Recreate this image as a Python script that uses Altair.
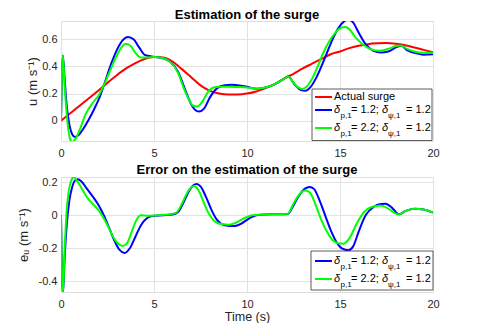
import altair as alt
import pandas as pd

# ---------------- data ----------------
t_actual = [0, 0.5, 1, 1.5, 2, 2.5, 3, 3.5, 4, 4.5, 5, 5.5, 6, 6.5, 7, 7.5, 8, 8.5, 9, 9.5,
            10, 10.5, 11, 11.5, 12, 12.5, 13, 13.5, 14, 14.5, 15, 15.5, 16, 16.5, 17, 17.5,
            18, 18.5, 19, 19.5, 20]
u_actual = [0, 0.055, 0.11, 0.165, 0.22, 0.28, 0.335, 0.385, 0.425, 0.455, 0.47, 0.465,
            0.435, 0.38, 0.32, 0.26, 0.22, 0.2, 0.193, 0.193, 0.2, 0.215, 0.24, 0.27, 0.31,
            0.345, 0.385, 0.42, 0.455, 0.49, 0.51, 0.535, 0.552, 0.564, 0.57, 0.572, 0.567,
            0.556, 0.54, 0.522, 0.505]

t_est_a = [0, 0.1, 0.2, 0.3, 0.45, 0.6, 0.75, 0.95, 1.2, 1.5, 1.8, 2.1, 2.4, 2.7, 3.0, 3.3,
           3.6, 3.9, 4.2, 4.5, 4.8, 5.1, 5.5, 5.9, 6.3, 6.7, 7.0, 7.2, 7.42, 7.7, 8.0, 8.4,
           8.8, 9.2, 9.6, 10.0, 10.5, 11.0, 11.5, 12.0, 12.2, 12.6, 12.9, 13.15, 13.4, 13.7,
           14.0, 14.3, 14.6, 14.9, 15.2, 15.45, 15.7, 16.0, 16.4, 16.8, 17.2, 17.6, 18.0,
           18.3, 18.6, 19.0, 19.5, 20]
u_est_a = [0, 0.48, 0.3, 0.12, -0.03, -0.1, -0.12, -0.105, -0.06, 0.01, 0.09, 0.18, 0.3,
           0.42, 0.52, 0.59, 0.617, 0.6, 0.54, 0.485, 0.475, 0.47, 0.46, 0.43, 0.36, 0.22,
           0.12, 0.08, 0.067, 0.09, 0.17, 0.24, 0.262, 0.265, 0.26, 0.25, 0.235, 0.245,
           0.27, 0.31, 0.325, 0.26, 0.225, 0.22, 0.245, 0.31, 0.4, 0.5, 0.6, 0.68, 0.73,
           0.745, 0.725, 0.65, 0.56, 0.515, 0.503, 0.51, 0.54, 0.553, 0.52, 0.5, 0.487, 0.49]

t_est_b = [0, 0.1, 0.2, 0.34, 0.5, 0.62, 0.8, 1.0, 1.33, 1.7, 2.04, 2.4, 2.7, 3.0, 3.25,
           3.48, 3.75, 4.0, 4.3, 4.6, 5.0, 5.5, 5.9, 6.3, 6.6, 6.9, 7.1, 7.33, 7.6, 7.9, 8.2,
           8.5, 9.0, 9.5, 10.0, 10.5, 11.0, 11.5, 12.0, 12.2, 12.5, 12.75, 12.97, 13.2, 13.5,
           13.8, 14.1, 14.4, 14.7, 15.0, 15.27, 15.5, 15.8, 16.2, 16.6, 17.1, 17.6, 18.0,
           18.26, 18.6, 19.0, 19.5, 20]
u_est_b = [0, 0.48, 0.25, 0.0, -0.14, -0.155, -0.13, -0.07, 0.05, 0.13, 0.19, 0.29, 0.39,
           0.48, 0.54, 0.567, 0.55, 0.5, 0.465, 0.465, 0.47, 0.46, 0.43, 0.35, 0.24, 0.15,
           0.11, 0.104, 0.14, 0.21, 0.245, 0.25, 0.25, 0.248, 0.245, 0.235, 0.245, 0.27,
           0.31, 0.325, 0.28, 0.245, 0.234, 0.25, 0.31, 0.4, 0.5, 0.58, 0.64, 0.68, 0.69,
           0.675, 0.62, 0.565, 0.53, 0.515, 0.53, 0.55, 0.555, 0.53, 0.51, 0.5, 0.5]

t_err_a = [0, 0.1, 0.2, 0.3, 0.45, 0.6, 0.75, 0.9, 1.1, 1.4, 1.7, 2.0, 2.3, 2.6, 2.9, 3.15,
           3.42, 3.7, 4.0, 4.3, 4.6, 4.9, 5.5, 6.0, 6.3, 6.6, 6.9, 7.1, 7.3, 7.5, 7.8, 8.1,
           8.4, 8.8, 9.3, 9.7, 10.1, 10.5, 11.0, 11.5, 12.2, 12.5, 12.8, 13.1, 13.37, 13.6,
           13.9, 14.2, 14.5, 14.8, 15.1, 15.45, 15.7, 16.0, 16.38, 16.8, 17.2, 17.45, 17.8,
           18.17, 18.5, 19.0, 19.5, 20]
e_err_a = [0, -0.48, -0.25, -0.07, 0.09, 0.17, 0.21, 0.218, 0.205, 0.16, 0.115, 0.065, 0.0,
           -0.08, -0.16, -0.21, -0.228, -0.2, -0.13, -0.06, -0.02, -0.005, 0.0, 0.005, 0.02,
           0.08, 0.15, 0.18, 0.19, 0.175, 0.11, 0.03, -0.03, -0.06, -0.065, -0.05, -0.02,
           0.0, 0.005, 0.006, 0.008, 0.06, 0.12, 0.16, 0.172, 0.16, 0.09, 0.0, -0.09, -0.16,
           -0.2, -0.212, -0.19, -0.1, 0.0, 0.05, 0.068, 0.07, 0.045, 0.006, 0.025, 0.04,
           0.035, 0.016]

t_err_b = [0, 0.1, 0.2, 0.3, 0.42, 0.55, 0.68, 0.85, 1.1, 1.42, 1.7, 1.95, 2.2, 2.5, 2.8,
           3.05, 3.3, 3.55, 3.8, 4.05, 4.3, 4.7, 5.2, 5.8, 6.2, 6.5, 6.8, 7.0, 7.15, 7.4, 7.7,
           8.0, 8.3, 8.7, 9.03, 9.4, 9.8, 10.3, 11.0, 12.0, 12.2, 12.5, 12.8, 13.15, 13.4,
           13.7, 14.0, 14.3, 14.6, 14.9, 15.2, 15.5, 15.9, 16.29, 16.7, 17.19, 17.6, 18.0,
           18.17, 18.5, 19.0, 19.5, 20]
e_err_b = [0, -0.48, -0.2, 0.02, 0.15, 0.21, 0.232, 0.21, 0.165, 0.105, 0.07, 0.04, 0.0,
           -0.06, -0.13, -0.17, -0.186, -0.17, -0.1, -0.03, 0.0, -0.003, 0.0, 0.005, 0.016,
           0.07, 0.14, 0.17, 0.178, 0.15, 0.07, 0.0, -0.04, -0.055, -0.057, -0.045, -0.02,
           0.0, 0.005, 0.006, 0.01, 0.07, 0.125, 0.15, 0.135, 0.06, -0.03, -0.1, -0.15,
           -0.17, -0.172, -0.14, -0.05, 0.02, 0.05, 0.06, 0.04, 0.01, 0.004, 0.025, 0.04,
           0.035, 0.016]

x_ticks = [0, 5, 10, 15, 20]
u_ticks = [0, 0.2, 0.4, 0.6]
e_ticks = [-0.4, -0.2, 0, 0.2]
u_domain = [-0.15, 0.735]
e_domain = [-0.465, 0.232]

title_top = "Estimation of the surge"
title_bottom = "Error on the estimation of the surge"
ytitle_top = "u (m s\u207b\u00b9)"
ytitle_bottom = "e\u1d64 (m s\u207b\u00b9)"
xtitle = "Time (s)"
label_actual = "Actual surge"
colors = {"actual": "#ff0000", "a": "#0000ff", "b": "#00ff00"}

# ---------------- style ----------------
FONT = "Liberation Sans"
TXT = "#262626"
W = 372
H1, H2 = 120, 115


def xaxis(title=None):
    kw = dict(values=x_ticks, grid=True, ticks=False, domain=False, labelPadding=6,
              labelExpr="'' + datum.value", labelFontSize=11, labelColor=TXT,
              labelFont=FONT, gridColor="#e2e2e2", labelFlush=False)
    if title:
        return alt.Axis(title=title, titleFont=FONT, titleFontSize=12.5,
                        titleFontWeight="normal", titleColor=TXT, titlePadding=1, **kw)
    return alt.Axis(title=None, **kw)


def yaxis(vals, title, pad):
    return alt.Axis(values=vals, grid=True, ticks=False, domain=False, labelPadding=4,
                    labelExpr="'' + datum.value", labelFontSize=11, labelColor=TXT,
                    labelFont=FONT, gridColor="#e2e2e2", title=title, titleFont=FONT,
                    titleFontSize=13, titleFontWeight="normal", titleColor=TXT,
                    titlePadding=pad)


def line(t, v, color, ydom, xax, yax):
    df = pd.DataFrame({"t": t, "v": v})
    return alt.Chart(df).mark_line(color=color, strokeWidth=2, interpolate="monotone",
                                   clip=True).encode(
        x=alt.X("t:Q", scale=alt.Scale(domain=[0, 20], nice=False), axis=xax),
        y=alt.Y("v:Q", scale=alt.Scale(domain=ydom, nice=False, zero=False), axis=yax),
    )


one = alt.Data(values=[{"k": 1}])


def txt(x, y, s, size=11, italic=False):
    kw = dict(align="left", baseline="middle", font=FONT, fontSize=size, color="#000")
    if italic:
        kw["fontStyle"] = "italic"
    return alt.Chart(one).mark_text(**kw).encode(x=alt.value(x), y=alt.value(y),
                                                 text=alt.value(s))


def seg(x1, x2, y, color):
    return alt.Chart(one).mark_rule(color=color, strokeWidth=2).encode(
        x=alt.value(x1), x2=alt.value(x2), y=alt.value(y))


def box(x1, x2, y1, y2):
    return alt.Chart(one).mark_rect(fill="white", stroke="#333", strokeWidth=0.8).encode(
        x=alt.value(x1), x2=alt.value(x2), y=alt.value(y1), y2=alt.value(y2))


def delta_row(y, p_val, color):
    return [
        seg(254, 271, y, color),
        txt(273, y, "\u03b4", italic=True),
        txt(279.5, y + 5.5, "p,1", size=8),
        txt(290, y, "= " + p_val + ";"),
        txt(321, y, "\u03b4", italic=True),
        txt(327, y + 5.5, "\u03c8,1", size=8),
        txt(345, y, "= 1.2"),
    ]


def ptitle(s):
    return alt.TitleParams(s, font=FONT, fontSize=13, fontWeight="bold", color="#000",
                           anchor="middle", frame="group", offset=-1)


# ---------------- top panel ----------------
xa_top = xaxis()
ya_top = yaxis(u_ticks, ytitle_top, 2)
top_layers = [
    line(t_actual, u_actual, colors["actual"], u_domain, xa_top, ya_top),
    line(t_est_a, u_est_a, colors["a"], u_domain, xa_top, ya_top),
    line(t_est_b, u_est_b, colors["b"], u_domain, xa_top, ya_top),
    box(251, 371, 68, 119.5),
    seg(254, 271, 76, colors["actual"]),
    txt(273, 76, label_actual),
] + delta_row(89, "1.2", colors["a"]) + delta_row(107, "2.2", colors["b"])

top = alt.layer(*top_layers).properties(width=W, height=H1, title=ptitle(title_top))

# ---------------- bottom panel ----------------
xa_bot = xaxis(xtitle)
ya_bot = yaxis(e_ticks, ytitle_bottom, 8)
bot_layers = [
    line(t_err_a, e_err_a, colors["a"], e_domain, xa_bot, ya_bot),
    line(t_err_b, e_err_b, colors["b"], e_domain, xa_bot, ya_bot),
    box(250, 372, 74, 113),
] + delta_row(84, "1.2", colors["a"]) + delta_row(102, "2.2", colors["b"])

bottom = alt.layer(*bot_layers).properties(width=W, height=H2, title=ptitle(title_bottom))

chart = alt.vconcat(top, bottom, spacing=4).properties(
    padding={"left": 8, "top": 0, "right": 5, "bottom": 0}
).configure_view(stroke="#555", strokeWidth=0.8).configure(background="white")

chart.save("out.html", embed_options={"renderer": "svg", "actions": False})
